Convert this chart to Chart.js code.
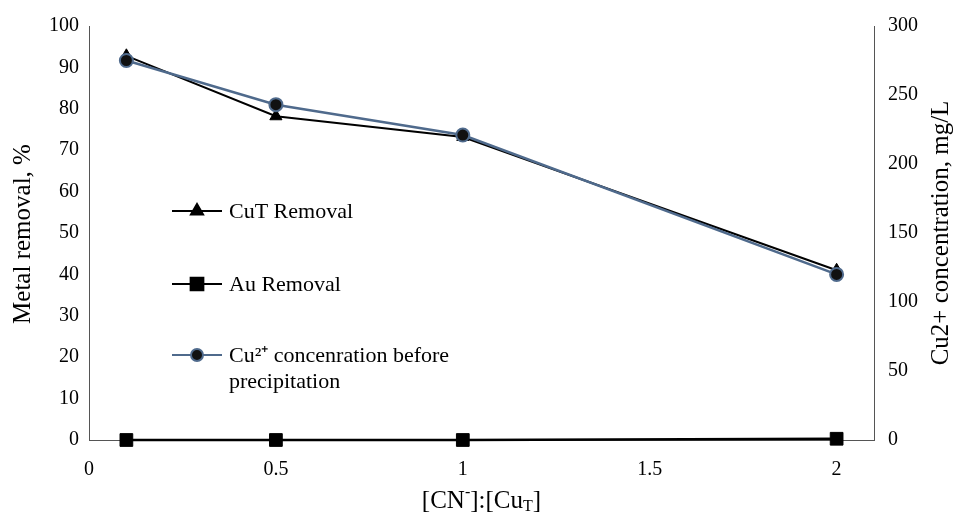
<!DOCTYPE html>
<html>
<head>
<meta charset="utf-8">
<script src="https://cdn.jsdelivr.net/npm/chart.js@4/dist/chart.umd.min.js"></script>
<style>
  html, body { margin: 0; padding: 0; background: #fff; }
  #wrap { width: 956px; height: 517px; position: relative; }
</style>
</head>
<body>
<div id="wrap"><canvas id="chart"></canvas></div>
<script>
// Data ---

const ratio = [0.1, 0.5, 1, 2];
const cuTRemoval = [92.8, 78.2, 73.2, 41.0];
const auRemoval = [0, 0, 0, 0.3];
const cu2Conc = [275, 243, 221, 120];

const xTicks = [0, 0.5, 1, 1.5, 2];

const FONT = '"Liberation Serif", "Times New Roman", serif';
const AXIS = "#555555";
const BLUE = "#4f6a8c";

const toPoints = (ys) => ratio.map((x, i) => ({ x: x, y: ys[i] }));

// Titles and legend ---

const overlay = {
  id: "overlay",
  afterDraw(chart) {
    const { ctx, chartArea: a } = chart;
    const draw = Chart.helpers.drawPoint;

    ctx.save();
    ctx.fillStyle = "#000";
    ctx.textBaseline = "middle";

    // left title
    ctx.font = "25px " + FONT;
    ctx.textAlign = "center";
    ctx.save();
    ctx.translate(23, 234);
    ctx.rotate(-Math.PI / 2);
    ctx.fillText("Metal removal, %", 0, 0);
    ctx.restore();

    // right title
    ctx.save();
    ctx.translate(941, 233);
    ctx.rotate(-Math.PI / 2);
    ctx.fillText("Cu2+ concentration, mg/L", 0, 0);
    ctx.restore();

    // x title: [CN-]:[CuT]
    const parts = [
      { t: "[CN", f: 25, dy: 0 },
      { t: "-", f: 16, dy: -8 },
      { t: "]:[Cu", f: 25, dy: 0 },
      { t: "T", f: 16, dy: 6 },
      { t: "]", f: 25, dy: 0 },
    ];
    let total = 0;
    parts.forEach((p) => {
      ctx.font = p.f + "px " + FONT;
      p.w = ctx.measureText(p.t).width;
      total += p.w;
    });
    let x = (a.left + a.right) / 2 - total / 2;
    ctx.textAlign = "left";
    parts.forEach((p) => {
      ctx.font = p.f + "px " + FONT;
      ctx.fillText(p.t, x, 501 + p.dy);
      x += p.w;
    });

    // legend
    const items = [
      { y: 211, lines: ["CuT Removal"], style: "triangle", r: 7, color: "#000", fill: "#000" },
      { y: 284, lines: ["Au Removal"], style: "rect", r: 9, color: "#000", fill: "#000" },
      { y: 355, lines: ["Cu²⁺ concenration before", "precipitation"], style: "circle", r: 6, color: BLUE, fill: "#111" },
    ];
    ctx.font = "22px " + FONT;
    items.forEach((it) => {
      ctx.strokeStyle = it.color;
      ctx.lineWidth = 2;
      ctx.beginPath();
      ctx.moveTo(172, it.y);
      ctx.lineTo(222, it.y);
      ctx.stroke();
      ctx.fillStyle = it.fill;
      ctx.strokeStyle = it.color;
      ctx.lineWidth = 2;
      draw(ctx, { pointStyle: it.style, radius: it.r, borderWidth: 2, rotation: 0 }, 197, it.y);
      ctx.fillStyle = "#000";
      it.lines.forEach((ln, i) => ctx.fillText(ln, 229, it.y + 1 + i * 26));
    });

    ctx.restore();
  },
};

// Chart ---

const data = {
  datasets: [
    {
      label: "CuT Removal",
      data: toPoints(cuTRemoval),
      yAxisID: "y",
      borderColor: "#000",
      backgroundColor: "#000",
      borderWidth: 2,
      pointStyle: "triangle",
      pointRadius: 7,
      pointBorderWidth: 1,
      clip: false,
      order: 2,
    },
    {
      label: "Au Removal",
      data: toPoints(auRemoval),
      yAxisID: "y",
      borderColor: "#000",
      backgroundColor: "#000",
      borderWidth: 2.5,
      pointStyle: "rect",
      pointRadius: 9,
      pointBorderWidth: 1,
      clip: false,
      order: 3,
    },
    {
      label: "Cu2+ concenration before precipitation",
      data: toPoints(cu2Conc),
      yAxisID: "y1",
      borderColor: BLUE,
      backgroundColor: "#111",
      borderWidth: 2.5,
      pointStyle: "circle",
      pointRadius: 6.5,
      pointBorderWidth: 2,
      pointBorderColor: BLUE,
      clip: false,
      order: 1,
    },
  ],
};

const tickFont = { family: FONT, size: 20 };

const options = {
  animation: false,
  responsive: false,
  layout: { padding: { top: 22, left: 0, right: 0, bottom: 0 } },
  plugins: { legend: { display: false }, tooltip: { enabled: false } },
  scales: {
    x: {
      type: "linear",
      min: 0,
      max: 2.1,
      grid: { display: false, drawTicks: false },
      border: { color: AXIS, width: 1 },
      afterBuildTicks: (scale) => {
        scale.ticks = xTicks.map((v) => ({ value: v }));
      },
      afterFit: (scale) => { scale.height = 77; },
      ticks: { color: "#000", font: tickFont, padding: 18, maxRotation: 0, callback: (v) => String(v) },
    },
    y: {
      position: "left",
      min: 0,
      max: 100,
      grid: { display: false, drawTicks: false },
      border: { color: AXIS, width: 1 },
      afterFit: (scale) => { scale.width = 89; },
      ticks: { color: "#000", font: tickFont, stepSize: 10, padding: 10 },
    },
    y1: {
      position: "right",
      min: 0,
      max: 300,
      grid: { display: false, drawTicks: false },
      border: { color: AXIS, width: 1 },
      afterFit: (scale) => { scale.width = 82; },
      ticks: { color: "#000", font: tickFont, stepSize: 50, padding: 14 },
    },
  },
};

const canvas = document.getElementById("chart");
canvas.width = 956;
canvas.height = 517;
canvas.style.width = "956px";
canvas.style.height = "517px";

new Chart(canvas, { type: "line", data: data, options: options, plugins: [overlay] });
</script>
</body>
</html>
